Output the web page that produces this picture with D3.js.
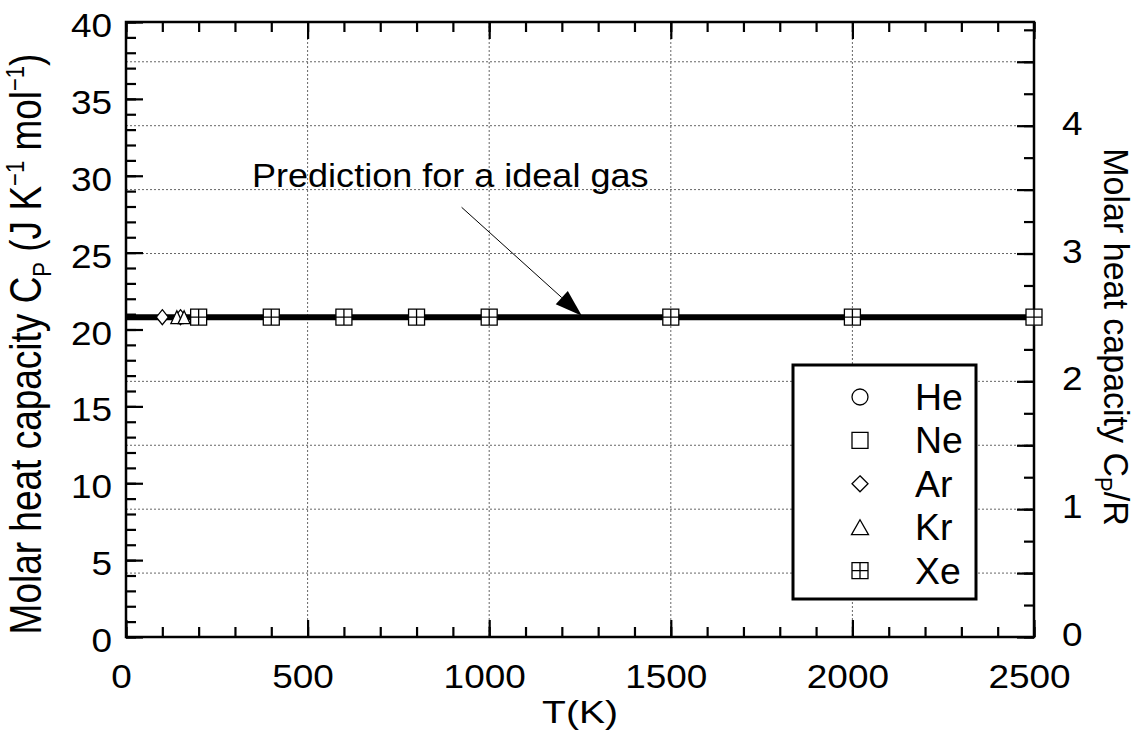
<!DOCTYPE html>
<html>
<head>
<meta charset="utf-8">
<script src="https://cdn.jsdelivr.net/npm/d3@7"></script>
<style>
body { margin: 0; background: #fff; }
text { font-family: "Liberation Sans", Arial, Helvetica, sans-serif; fill: #000; }
</style>
</head>
<body>
<div id="chart"></div>
<script>
var svgWidth = 1143;
var svgHeight = 731;

var margin = {
    top: 22,
    right: 109,
    bottom: 94,
    left: 126
};

var width = svgWidth - margin.left - margin.right;
var height = svgHeight - margin.top - margin.bottom;

// values (T in K, Cp in J/K/mol)
var gases = ["He", "Ne", "Ar", "Kr", "Xe"];
var arT = [100, 150];
var arCp = [20.8, 20.8];
var krT = [140, 160];
var krCp = [20.8, 20.8];
var xeT = [200, 400, 600, 800, 1000, 1500, 2000, 2500];
var xeCp = [20.8, 20.8, 20.8, 20.8, 20.8, 20.8, 20.8, 20.8];
var idealT = [0, 2500];
var idealCp = [20.79, 20.79];
var R = 8.314;

var xTicks = [0, 500, 1000, 1500, 2000, 2500];
var yTicks = [0, 5, 10, 15, 20, 25, 30, 35, 40];
var y2Ticks = [0, 1, 2, 3, 4];

var noteText = "Prediction for a ideal gas";
var notePos = [347, 29.3];
var arrowFrom = [924, 27.95];
var arrowTo = [1255, 20.9];

var svg = d3.select("#chart")
    .append("svg")
    .attr("width", svgWidth)
    .attr("height", svgHeight);

var chartGroup = svg.append("g")
    .attr("transform", `translate(${margin.left}, ${margin.top})`);

var xScale = d3.scaleLinear().domain([0, 2500]).range([0, width]);
var yScale = d3.scaleLinear().domain([0, 40]).range([height, 0]);
var y2Scale = d3.scaleLinear().domain([0, 40 / R]).range([height, 0]);

// the original text looks a little stretched sideways
var sx = 1.12;

// dotted grid
chartGroup.append("g").selectAll("line")
    .data([500, 1000, 1500, 2000])
    .enter().append("line")
    .attr("x1", d => xScale(d)).attr("x2", d => xScale(d))
    .attr("y1", 0).attr("y2", height)
    .attr("stroke", "#666").attr("stroke-width", 1).attr("stroke-dasharray", "2,2");

chartGroup.append("g").selectAll("line")
    .data(d3.range(0.5, 4.8, 0.5))
    .enter().append("line")
    .attr("x1", 0).attr("x2", width)
    .attr("y1", d => y2Scale(d)).attr("y2", d => y2Scale(d))
    .attr("stroke", "#666").attr("stroke-width", 1).attr("stroke-dasharray", "2,2");

// axes: minor ticks then major ticks, all pointing inwards
function tidy(g) {
    g.select(".domain").remove();
    g.selectAll("line").attr("stroke", "#000").attr("stroke-width", 2.2);
}

chartGroup.append("g")
    .attr("transform", `translate(0, ${height})`)
    .call(d3.axisBottom(xScale).tickValues(d3.range(0, 2501, 100)).tickSize(-10).tickFormat(""))
    .call(tidy);

var bottomAxis = chartGroup.append("g")
    .attr("transform", `translate(0, ${height})`)
    .call(d3.axisBottom(xScale).tickValues(xTicks).tickSize(-17).tickFormat(d3.format("d")))
    .call(tidy);
bottomAxis.selectAll("text")
    .attr("font-size", 33).attr("y", 0).attr("dy", 51).attr("x", -5 / sx)
    .attr("transform", `scale(${sx},1)`);

chartGroup.append("g")
    .call(d3.axisTop(xScale).tickValues(d3.range(0, 2501, 100)).tickSize(-10).tickFormat(""))
    .call(tidy);
chartGroup.append("g")
    .call(d3.axisTop(xScale).tickValues(xTicks).tickSize(-17).tickFormat(""))
    .call(tidy);

chartGroup.append("g")
    .call(d3.axisLeft(yScale).tickValues(d3.range(0, 41, 1)).tickSize(-10).tickFormat(""))
    .call(tidy);
var leftAxis = chartGroup.append("g")
    .call(d3.axisLeft(yScale).tickValues(yTicks).tickSize(-17).tickFormat(d3.format("d")))
    .call(tidy);
leftAxis.selectAll("text")
    .attr("font-size", 33).attr("x", -14 / sx).attr("dy", 14.5)
    .attr("transform", `scale(${sx},1)`);

chartGroup.append("g")
    .attr("transform", `translate(${width}, 0)`)
    .call(d3.axisRight(y2Scale).tickValues(d3.range(0, 4.8, 0.25)).tickSize(-10).tickFormat(""))
    .call(tidy);
chartGroup.append("g")
    .attr("transform", `translate(${width}, 0)`)
    .call(d3.axisRight(y2Scale).tickValues(d3.range(0, 4.8, 0.5)).tickSize(-17).tickFormat(""))
    .call(tidy);
var rightAxis = chartGroup.append("g")
    .attr("transform", `translate(${width}, 0)`)
    .call(d3.axisRight(y2Scale).tickValues(y2Ticks).tickSize(0).tickFormat(d3.format("d")))
    .call(tidy);
rightAxis.selectAll("text")
    .attr("font-size", 33).attr("x", 28 / sx).attr("dy", 8.5)
    .attr("transform", `scale(${sx},1)`);

// frame
chartGroup.append("rect")
    .attr("width", width).attr("height", height)
    .attr("fill", "none").attr("stroke", "#000").attr("stroke-width", 2.5);

// ideal gas line
var line = d3.line().x(d => xScale(d[0])).y(d => yScale(d[1]));
chartGroup.append("path")
    .datum(d3.zip(idealT, idealCp))
    .attr("d", line)
    .attr("fill", "none").attr("stroke", "#000").attr("stroke-width", 6);

// marker shapes
function symbolPath(type, w, h) {
    var a = w / 2, b = h / 2;
    if (type == "circle") return `M${-a},0A${a},${a} 0 1,0 ${a},0A${a},${a} 0 1,0 ${-a},0Z`;
    if (type == "square") return `M${-a},${-b}H${a}V${b}H${-a}Z`;
    if (type == "diamond") return `M0,${-b}L${a},0L0,${b}L${-a},0Z`;
    if (type == "triangle") return `M0,${-b}L${a},${b}L${-a},${b}Z`;
    if (type == "cross") return `M${-a},${-b}H${a}V${b}H${-a}Z M0,${-b}V${b} M${-a},0H${a}`;
}
var shapes = {He: "circle", Ne: "square", Ar: "diamond", Kr: "triangle", Xe: "cross"};

function drawPoints(ts, cps, type, w, h) {
    chartGroup.append("g").selectAll("path")
        .data(d3.zip(ts, cps))
        .enter().append("path")
        .attr("transform", d => `translate(${xScale(d[0])}, ${yScale(d[1])})`)
        .attr("d", symbolPath(type, w, h))
        .attr("fill", "#fff").attr("stroke", "#000").attr("stroke-width", 1.3);
}
drawPoints(arT, arCp, "diamond", 12, 15);
drawPoints(krT, krCp, "triangle", 12, 13);
drawPoints(xeT, xeCp, "cross", 16, 16);

// annotation with arrow
var ax0 = xScale(arrowFrom[0]), ay0 = yScale(arrowFrom[1]);
var ax1 = xScale(arrowTo[0]), ay1 = yScale(arrowTo[1]);
var ang = Math.atan2(ay1 - ay0, ax1 - ax0);
var headLen = 27, headW = 9;
var bx = ax1 - headLen * Math.cos(ang), by = ay1 - headLen * Math.sin(ang);
chartGroup.append("line")
    .attr("x1", ax0).attr("y1", ay0).attr("x2", bx).attr("y2", by)
    .attr("stroke", "#000").attr("stroke-width", 1);
chartGroup.append("path")
    .attr("d", `M${ax1},${ay1}L${bx + headW * Math.sin(ang)},${by - headW * Math.cos(ang)}L${bx - headW * Math.sin(ang)},${by + headW * Math.cos(ang)}Z`)
    .attr("fill", "#000");

chartGroup.append("text")
    .attr("transform", `translate(${xScale(notePos[0])}, ${yScale(notePos[1])}) scale(1.06,1)`)
    .attr("font-size", 34)
    .text(noteText);

// legend
var legend = svg.append("g").attr("transform", "translate(793, 365)");
legend.append("rect")
    .attr("width", 183).attr("height", 234)
    .attr("fill", "#fff").attr("stroke", "#000").attr("stroke-width", 3);
var items = legend.selectAll("g.item")
    .data(gases)
    .enter().append("g")
    .attr("transform", (d, i) => `translate(0, ${32 + i * 43.4})`);
items.append("path")
    .attr("transform", "translate(67, 0)")
    .attr("d", d => symbolPath(shapes[d], d == "Kr" ? 17 : 16, d == "Kr" ? 15 : 16))
    .attr("fill", "#fff").attr("stroke", "#000").attr("stroke-width", 1.3);
items.append("text")
    .attr("transform", `translate(122, 13) scale(1.04,1)`)
    .attr("font-size", 36)
    .text(d => d);

// axis titles
svg.append("text")
    .attr("transform", `translate(${(margin.left + margin.left + width) / 2}, 723) scale(1.22,1)`)
    .attr("text-anchor", "middle")
    .attr("font-size", 32)
    .text("T(K)");

var ylab = svg.append("text")
    .attr("transform", `translate(41, 344) scale(1.2,1) rotate(-90)`)
    .attr("text-anchor", "middle")
    .attr("font-size", 37);
ylab.append("tspan").text("Molar heat capacity C");
ylab.append("tspan").attr("font-size", 22).attr("dy", 8).text("P");
ylab.append("tspan").attr("dy", -8).text(" (J K");
ylab.append("tspan").attr("font-size", 22).attr("dy", -14).text("\u22121");
ylab.append("tspan").attr("dy", 14).text(" mol");
ylab.append("tspan").attr("font-size", 22).attr("dy", -14).text("\u22121");
ylab.append("tspan").attr("dy", 14).text(")");

var y2lab = svg.append("text")
    .attr("transform", `translate(1104, 337) scale(1.05,1) rotate(90)`)
    .attr("text-anchor", "middle")
    .attr("font-size", 34);
y2lab.append("tspan").text("Molar heat capacity C");
y2lab.append("tspan").attr("font-size", 22).attr("dy", 9).text("P");
y2lab.append("tspan").attr("dy", -9).text("/R");
</script>
</body>
</html>
